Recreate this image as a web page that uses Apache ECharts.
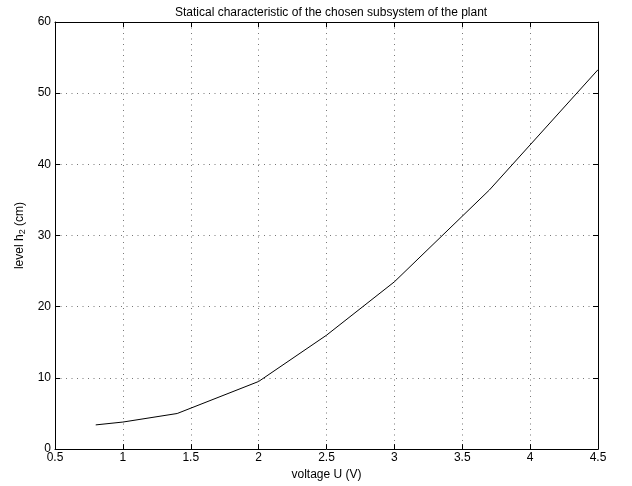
<!DOCTYPE html>
<html><head><meta charset="utf-8">
<script src="https://cdn.jsdelivr.net/npm/echarts@6/dist/echarts.min.js"></script>
<style>html,body{margin:0;padding:0;background:#fff}#c{width:632px;height:486px}</style>
</head><body><div id="c"></div>
<script>
var voltage = [0.8, 1.0, 1.4, 2.0, 2.5, 3.0, 3.7, 4.5];
var level = [3.4, 3.8, 5.0, 9.5, 16.0, 23.5, 36.4, 53.3];
var xTicks = [0.5, 1, 1.5, 2, 2.5, 3, 3.5, 4, 4.5];
var yTicks = [0, 10, 20, 30, 40, 50, 60];

var font = 'Liberation Sans, Arial, Helvetica, sans-serif';
var chart = echarts.init(document.getElementById('c'));
var grid = {left: 55, right: 34, top: 22, bottom: 36, containLabel: false};
var tickStyle = {show: true, inside: true, length: 5, lineStyle: {color: '#000', width: 1}};
var gridLine = {show: true, lineStyle: {color: '#555', type: [1, 4.5], width: 1, opacity: 0.8}};
function xAxis(pos, labels) {
  return {
    type: 'value', position: pos, min: xTicks[0], max: xTicks[xTicks.length - 1], interval: 0.5,
    axisLine: {show: true, onZero: false, lineStyle: {color: '#000', width: 1}},
    axisTick: tickStyle,
    axisLabel: {show: labels, color: '#000', fontSize: 12, fontFamily: font, margin: 3,
      formatter: function (v) { return String(Math.round(v * 10) / 10); }},
    splitLine: labels ? gridLine : {show: false},
    name: labels ? 'voltage U (V)' : '', nameLocation: 'middle', nameGap: 19,
    nameTextStyle: {color: '#000', fontSize: 12, fontFamily: font}
  };
}
function yAxis(pos, labels) {
  return {
    type: 'value', position: pos, min: yTicks[0], max: yTicks[yTicks.length - 1], interval: 10,
    axisLine: {show: true, onZero: false, lineStyle: {color: '#000', width: 1}},
    axisTick: tickStyle,
    axisLabel: {show: labels, color: '#000', fontSize: 12, fontFamily: font, margin: 4},
    splitLine: labels ? gridLine : {show: false},
    name: labels ? 'level h{sub|2} (cm)' : '', nameLocation: 'middle', nameGap: 28,
    nameTextStyle: {color: '#000', fontSize: 12, fontFamily: font,
      rich: {sub: {fontSize: 9, verticalAlign: 'bottom', padding: [6, 0, 0, 0], fontFamily: font, color: '#000'}}}
  };
}
chart.setOption({
  animation: false,
  backgroundColor: '#fff',
  title: {text: 'Statical characteristic of the chosen subsystem of the plant', left: 170, top: 2,
    textStyle: {color: '#000', fontSize: 12, fontWeight: 'normal', fontFamily: font}},
  grid: grid,
  xAxis: [xAxis('bottom', true), xAxis('top', false)],
  yAxis: [yAxis('left', true), yAxis('right', false)],
  series: [{
    type: 'line', xAxisIndex: 0, yAxisIndex: 0,
    data: voltage.map(function (v, i) { return [v, level[i]]; }),
    showSymbol: false, symbol: 'none',
    lineStyle: {color: '#000', width: 1}
  }]
});
</script></body></html>
